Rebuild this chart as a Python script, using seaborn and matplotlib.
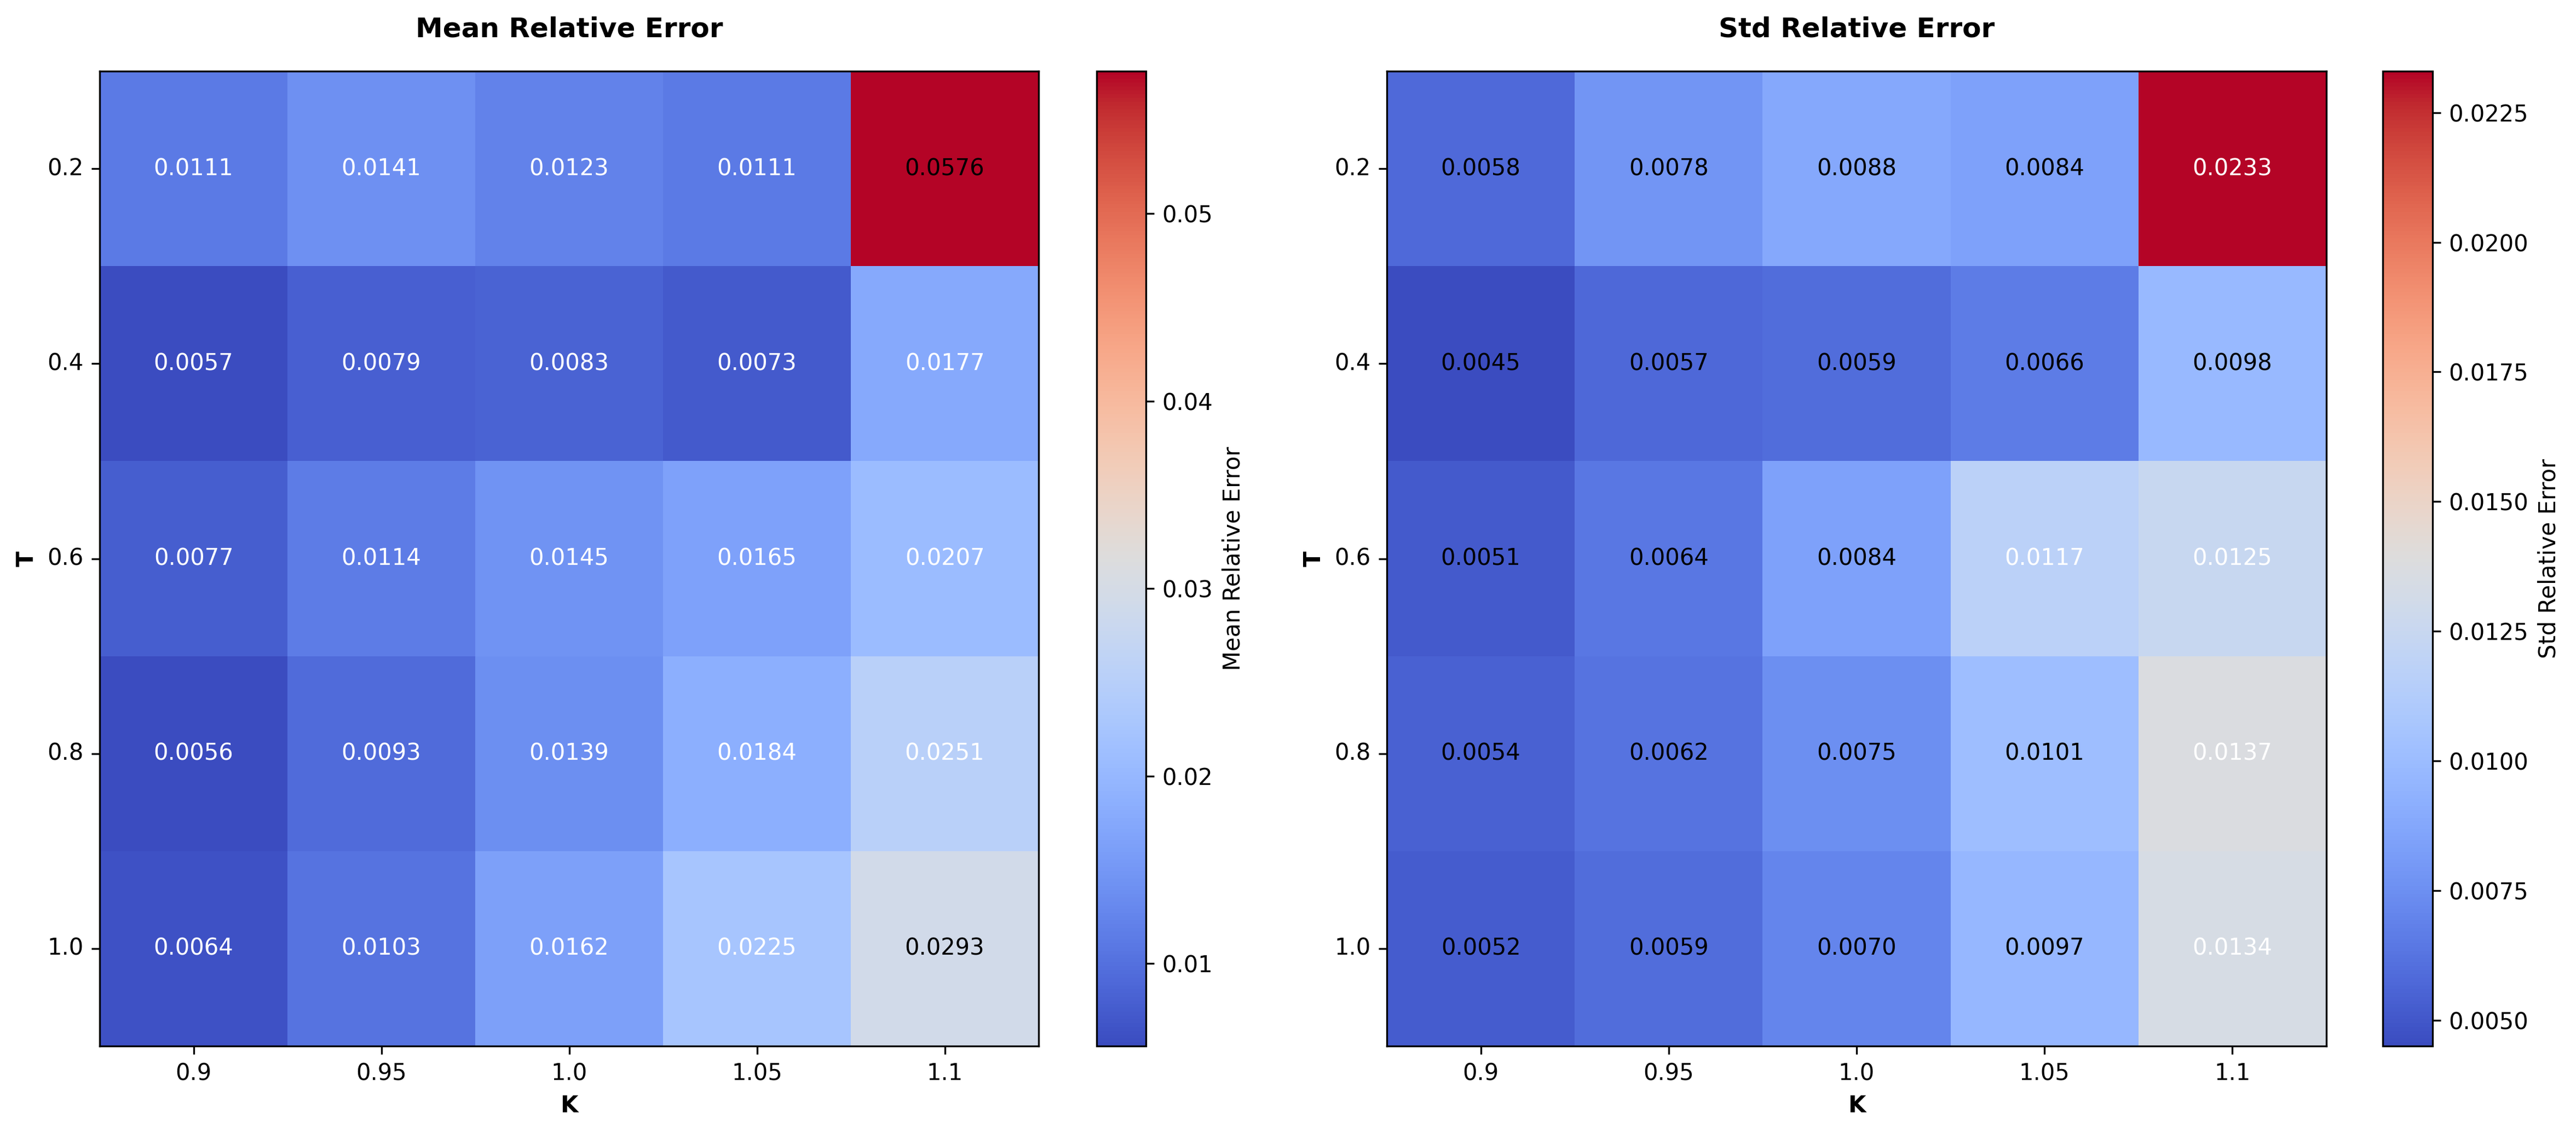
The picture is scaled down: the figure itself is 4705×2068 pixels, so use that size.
import matplotlib
matplotlib.use('Agg')
import matplotlib.pyplot as plt
import seaborn as sns
import numpy as np
import pandas as pd

K_values = [0.9, 0.95, 1.0, 1.05, 1.1]
T_values = [0.2, 0.4, 0.6, 0.8, 1.0]

# errore relativo medio (righe = T, colonne = K)
mean_err = [
    [0.0111, 0.0141, 0.0123, 0.0111, 0.0576],
    [0.0057, 0.0079, 0.0083, 0.0073, 0.0177],
    [0.0077, 0.0114, 0.0145, 0.0165, 0.0207],
    [0.0056, 0.0093, 0.0139, 0.0184, 0.0251],
    [0.0064, 0.0103, 0.0162, 0.0225, 0.0293],
]

# deviazione standard dell'errore relativo
std_err = [
    [0.0058, 0.0078, 0.0088, 0.0084, 0.0233],
    [0.0045, 0.0057, 0.0059, 0.0066, 0.0098],
    [0.0051, 0.0064, 0.0084, 0.0117, 0.0125],
    [0.0054, 0.0062, 0.0075, 0.0101, 0.0137],
    [0.0052, 0.0059, 0.0070, 0.0097, 0.0134],
]

# colore del testo nelle celle (True = bianco)
mean_white = [
    [True, True, True, True, False],
    [True, True, True, True, True],
    [True, True, True, True, True],
    [True, True, True, True, True],
    [True, True, True, True, False],
]
std_white = [
    [False, False, False, False, True],
    [False, False, False, False, False],
    [False, False, False, True, True],
    [False, False, False, False, True],
    [False, False, False, False, True],
]

W, H = 4705, 2068
fig = plt.figure(figsize=(W / 300, H / 300), dpi=300)


def box(x0, x1, y0, y1):
    return [x0 / W, 1 - y1 / H, (x1 - x0) / W, (y1 - y0) / H]


panels = [
    (mean_err, mean_white, 'Mean Relative Error', box(182, 1897, 130, 1911), box(2003, 2093, 130, 1911)),
    (std_err, std_white, 'Std Relative Error', box(2533, 4249, 130, 1911), box(4352, 4443, 130, 1911)),
]

for data, white, title, ax_pos, cb_pos in panels:
    ax = fig.add_axes(ax_pos)
    cax = fig.add_axes(cb_pos)
    df = pd.DataFrame(data, index=T_values, columns=K_values)
    sns.heatmap(df, ax=ax, cbar_ax=cax, cmap='coolwarm', annot=True, fmt='.4f',
                annot_kws={'fontsize': 10}, cbar_kws={'label': title})
    flat = np.array(white).ravel()
    for txt, w in zip(ax.texts, flat):
        txt.set_color('white' if w else 'black')
    ax.tick_params(axis='y', rotation=0)
    for s in ax.spines.values():
        s.set_visible(True)
        s.set_linewidth(0.8)
    cb = ax.collections[0].colorbar
    cb.outline.set_visible(True)
    cb.outline.set_linewidth(0.8)
    ax.set_title(title, fontsize=12, fontweight='bold', pad=15)
    ax.set_xlabel('K', fontweight='bold')
    ax.set_ylabel('T', fontweight='bold')

fig.savefig('out.png', dpi=300)
